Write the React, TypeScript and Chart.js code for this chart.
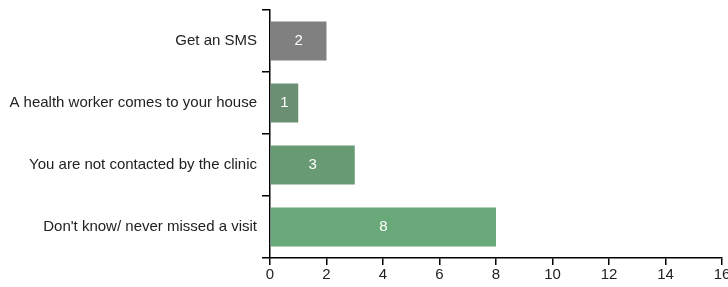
import React, { useEffect, useRef } from "react";
import { Chart, registerables } from "chart.js";

Chart.register(...registerables);

const categories = [
  "Get an SMS",
  "A health worker comes to your house",
  "You are not contacted by the clinic",
  "Don't know/ never missed a visit",
];
const values = [2, 1, 3, 8];
const barColors = ["#808080", "#6b8f73", "#689b73", "#69a878"];
const xTicks = [0, 2, 4, 6, 8, 10, 12, 14, 16];

const FONT = "'Liberation Sans', Arial, sans-serif";

const valueLabels = {
  id: "valueLabels",
  afterDatasetsDraw(chart: any) {
    const ctx = chart.ctx;
    const meta = chart.getDatasetMeta(0);
    ctx.save();
    ctx.fillStyle = "#ffffff";
    ctx.font = `15px ${FONT}`;
    ctx.textAlign = "center";
    ctx.textBaseline = "middle";
    meta.data.forEach((bar: any, i: number) => {
      const cx = (bar.x + bar.base) / 2;
      ctx.fillText(String(values[i]), cx, bar.y);
    });
    ctx.restore();
  },
};

export default function App() {
  const ref = useRef<HTMLCanvasElement>(null);
  useEffect(() => {
    document.body.style.margin = "0";
    const chart = new Chart(ref.current!, {
      type: "bar",
      data: {
        labels: categories,
        datasets: [
          {
            data: values,
            backgroundColor: barColors,
            barPercentage: 0.63,
            categoryPercentage: 1,
          },
        ],
      },
      options: {
        indexAxis: "y",
        animation: false,
        responsive: false,
        maintainAspectRatio: false,
        layout: { padding: { top: 10, right: 6, left: 0, bottom: 0 } },
        plugins: { legend: { display: false }, tooltip: { enabled: false } },
        scales: {
          x: {
            min: 0,
            max: 16,
            afterBuildTicks: (s: any) => {
              s.ticks = xTicks.map((v) => ({ value: v }));
            },
            afterFit: (s: any) => {
              s.height = 29;
              s.paddingLeft = 0;
              s.paddingRight = 0;
            },
            grid: {
              drawOnChartArea: false,
              drawTicks: true,
              tickLength: 7,
              color: "#000",
              lineWidth: 1.5,
            },
            border: { display: true, color: "#000", width: 1.5 },
            ticks: {
              color: "#222",
              font: { family: FONT, size: 15 },
              padding: 1,
              maxRotation: 0,
            },
          },
          y: {
            afterFit: (s: any) => {
              s.width = 270;
              s.paddingTop = 0;
              s.paddingBottom = 0;
            },
            grid: {
              drawOnChartArea: false,
              drawTicks: true,
              tickLength: 8,
              color: "#000",
              lineWidth: 1.5,
              offset: true,
            },
            border: { display: true, color: "#000", width: 1.5 },
            ticks: {
              color: "#222",
              font: { family: FONT, size: 15 },
              padding: 5,
            },
          },
        },
      },
      plugins: [valueLabels],
    });
    return () => chart.destroy();
  }, []);
  return (
    <div style={{ width: 728, height: 287 }}>
      <canvas ref={ref} width={728} height={287} style={{ display: "block" }} />
    </div>
  );
}
